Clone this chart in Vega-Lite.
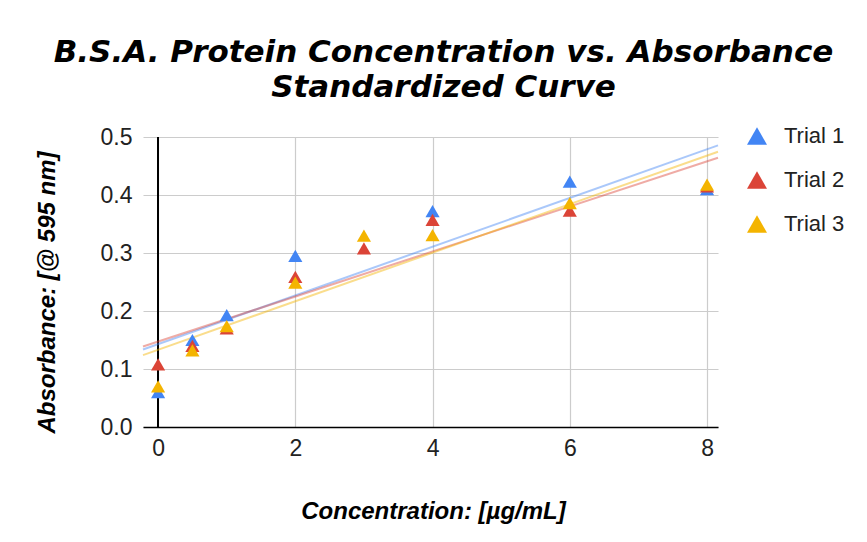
{
  "$schema": "https://vega.github.io/schema/vega-lite/v6.json",
  "autosize": "none",
  "width": 575,
  "height": 290,
  "padding": {"left": 143, "top": 137, "right": 149, "bottom": 115},
  "background": "white",
  "title": {
    "text": ["B.S.A. Protein Concentration vs. Absorbance", "Standardized Curve"],
    "font": "DejaVu Sans",
    "fontSize": 31,
    "fontWeight": "bold",
    "fontStyle": "italic",
    "color": "#000000",
    "anchor": "middle",
    "frame": "group",
    "dx": 13,
    "lineHeight": 35,
    "offset": 21
  },
  "config": {
    "view": {"stroke": null},
    "axis": {
      "labelFont": "Liberation Sans",
      "labelFontSize": 23,
      "labelColor": "#222222",
      "titleFont": "Liberation Sans",
      "titleFontSize": 24,
      "titleFontWeight": "bold",
      "titleFontStyle": "italic",
      "titleColor": "#000000",
      "gridColor": "#cccccc",
      "gridWidth": 1.2,
      "ticks": false
    }
  },
  "data": {
    "values": [
      {"trial": "Trial 1", "conc": 0, "abs": 0.06},
      {"trial": "Trial 1", "conc": 0.5, "abs": 0.15},
      {"trial": "Trial 1", "conc": 1, "abs": 0.193},
      {"trial": "Trial 1", "conc": 2, "abs": 0.295},
      {"trial": "Trial 1", "conc": 4, "abs": 0.372},
      {"trial": "Trial 1", "conc": 6, "abs": 0.423},
      {"trial": "Trial 1", "conc": 8, "abs": 0.41},
      {"trial": "Trial 2", "conc": 0, "abs": 0.108},
      {"trial": "Trial 2", "conc": 0.5, "abs": 0.14},
      {"trial": "Trial 2", "conc": 1, "abs": 0.17},
      {"trial": "Trial 2", "conc": 2, "abs": 0.259},
      {"trial": "Trial 2", "conc": 3, "abs": 0.308},
      {"trial": "Trial 2", "conc": 4, "abs": 0.357},
      {"trial": "Trial 2", "conc": 6, "abs": 0.373},
      {"trial": "Trial 2", "conc": 8, "abs": 0.415},
      {"trial": "Trial 3", "conc": 0, "abs": 0.07},
      {"trial": "Trial 3", "conc": 0.5, "abs": 0.132},
      {"trial": "Trial 3", "conc": 1, "abs": 0.174},
      {"trial": "Trial 3", "conc": 2, "abs": 0.249},
      {"trial": "Trial 3", "conc": 3, "abs": 0.33},
      {"trial": "Trial 3", "conc": 4, "abs": 0.331},
      {"trial": "Trial 3", "conc": 6, "abs": 0.386},
      {"trial": "Trial 3", "conc": 8, "abs": 0.418}
    ]
  },
  "encoding": {
    "x": {
      "field": "conc",
      "type": "quantitative",
      "scale": {"domain": [-0.22, 8.16], "nice": false, "zero": false},
      "axis": {
        "values": [0, 2, 4, 6, 8],
        "title": "Concentration: [µg/mL]",
        "domainColor": "#000000",
        "domainWidth": 1.5,
        "labelPadding": 10,
        "titleX": 290,
        "titleY": 91,
        "titleBaseline": "alphabetic",
        "titleAnchor": "middle"
      }
    },
    "y": {
      "field": "abs",
      "type": "quantitative",
      "scale": {"domain": [0, 0.5], "nice": false},
      "axis": {
        "values": [0, 0.1, 0.2, 0.3, 0.4, 0.5],
        "format": ".1f",
        "title": "Absorbance: [@ 595 nm]",
        "domain": false,
        "labelPadding": 11,
        "titleAngle": -90,
        "titleX": -89,
        "titleY": 155,
        "titleBaseline": "alphabetic",
        "titleAnchor": "middle"
      }
    }
  },
  "layer": [
    {
      "mark": {"type": "rule", "color": "#000000", "strokeWidth": 1.5},
      "encoding": {
        "x": {"datum": 0, "type": "quantitative"},
        "y": {"datum": 0, "type": "quantitative"},
        "y2": {"datum": 0.5}
      }
    },
    {
      "transform": [
        {"regression": "abs", "on": "conc", "groupby": ["trial"], "extent": [-0.22, 8.16]}
      ],
      "mark": {"type": "line", "strokeWidth": 2, "strokeOpacity": 0.45},
      "encoding": {
        "color": {
          "field": "trial",
          "type": "nominal",
          "scale": {"domain": ["Trial 1", "Trial 2", "Trial 3"], "range": ["#4285F4", "#DB4437", "#F4B400"]}
        }
      }
    },
    {
      "mark": {"type": "point", "shape": "triangle-up", "filled": true, "size": 200, "opacity": 1},
      "encoding": {
        "color": {
          "field": "trial",
          "type": "nominal",
          "scale": {"domain": ["Trial 1", "Trial 2", "Trial 3"], "range": ["#4285F4", "#DB4437", "#F4B400"]},
          "legend": {
            "title": null,
            "orient": "none",
            "legendX": 603,
            "legendY": -12,
            "padding": 0,
            "symbolType": "triangle-up",
            "symbolSize": 400,
            "symbolOpacity": 1,
            "symbolStrokeWidth": 0,
            "labelFont": "Liberation Sans",
            "labelFontSize": 22,
            "labelColor": "#222222",
            "labelOffset": 16,
            "rowPadding": 22,
            "encode": {"symbols": {"update": {"opacity": {"value": 1}, "fillOpacity": {"value": 1}}}}
          }
        }
      }
    }
  ]
}
